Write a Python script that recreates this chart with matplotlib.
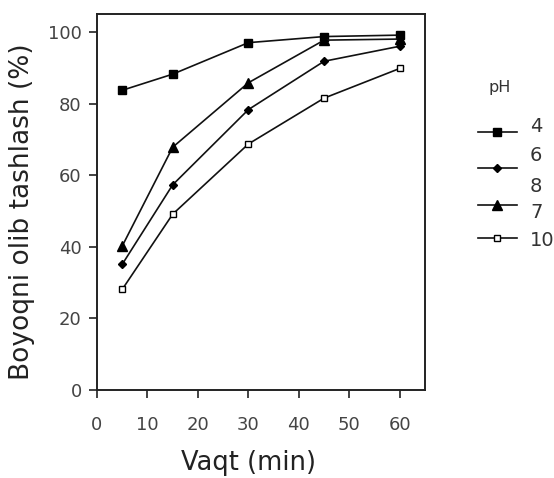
import matplotlib.pyplot as plt
from matplotlib.lines import Line2D

plt.rcParams['font.family'] = ['DejaVu Sans']

# contact time, min
vaqt = [5, 15, 30, 45, 60]

# dye removal (%) at each pH
ph4 = [83.7, 88.2, 97.0, 98.7, 99.1]
ph6 = [35.1, 57.3, 78.3, 91.8, 96.0]
ph7 = [40.2, 67.8, 85.8, 97.7, 98.0]
ph10 = [28.1, 49.1, 68.7, 81.5, 89.8]

legend_labels = ['4', '6', '8', '7', '10']

W, H = 554, 478
fig = plt.figure(figsize=(W / 100, H / 100), dpi=100)
ax = fig.add_axes([97 / W, 1 - 390 / H, (425 - 97) / W, (390 - 14) / H])

styles = [
    (ph4, dict(marker='s', mfc='black', ms=6)),
    (ph6, dict(marker='D', mfc='black', ms=4.5)),
    (ph7, dict(marker='^', mfc='black', ms=6.5)),
    (ph10, dict(marker='s', mfc='white', ms=5)),
]
for vals, st in styles:
    ax.plot(vaqt, vals, color='#111111', lw=1.2, mec='black', mew=1.0, **st)

ax.set_xlim(0, 65)
ax.set_ylim(0, 105)
ax.set_xticks(range(0, 61, 10))
ax.set_yticks(range(0, 101, 20))
ax.tick_params(direction='out', length=6, width=1.2, labelsize=13,
               labelcolor='#444444', color='#222222')
ax.tick_params(axis='x', pad=13)
ax.tick_params(axis='y', pad=5)
for s in ax.spines.values():
    s.set_linewidth(1.4)
    s.set_color('#222222')

ax.set_xlabel('Vaqt (min)', fontsize=18.5, color='#222222')
ax.xaxis.set_label_coords(30 / 65, -0.16)
ax.set_ylabel('Boyoqni olib tashlash (%)', fontsize=19, color='#222222')
ax.yaxis.set_label_coords(-0.19, 0.473)

# legend drawn by hand: five labels beside four keys
fig.text(500 / W, 1 - 87.5 / H, 'pH', fontsize=11.5, color='#333333',
         ha='center', va='center')
key_y = [131.7, 168.3, 205, 238.3]
for (vals, st), y in zip(styles, key_y):
    yf = 1 - y / H
    fig.add_artist(Line2D([478 / W, 517 / W], [yf, yf], color='#111111', lw=1.2,
                          transform=fig.transFigure))
    fig.add_artist(Line2D([497 / W], [yf], color='black', mec='black', mew=1.0,
                          transform=fig.transFigure, **st))
label_y = [126.7, 155.8, 186.7, 212.5, 240.8]
for lab, y in zip(legend_labels, label_y):
    fig.text(530 / W, 1 - y / H, lab, fontsize=14, color='#333333',
             ha='left', va='center')

fig.savefig('out.png', dpi=100)
